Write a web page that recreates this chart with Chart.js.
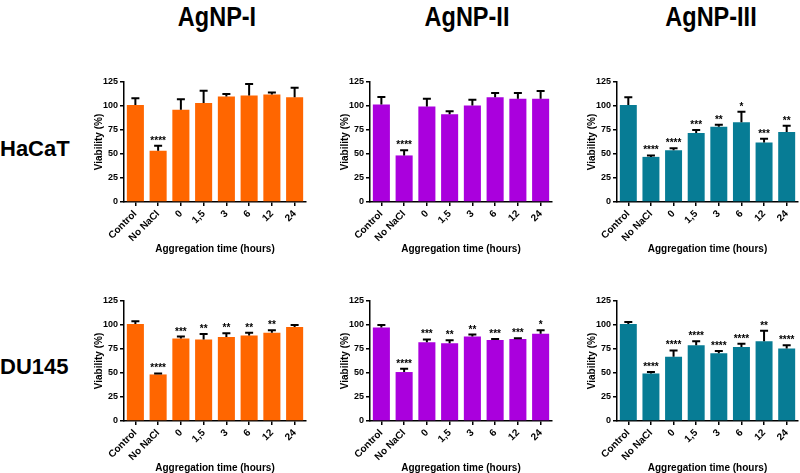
<!DOCTYPE html>
<html>
<head>
<meta charset="utf-8">
<script src="https://cdn.jsdelivr.net/npm/chart.js@4.4.0/dist/chart.umd.min.js"></script>
<style>
  body { margin: 0; width: 800px; height: 473px; background: #fff; position: relative; overflow: hidden;
         font-family: "Liberation Sans", Arial, sans-serif; }
  canvas { position: absolute; }
  .colTitle { position: absolute; top: 4px; font-size: 27px; line-height: 27px; font-weight: bold;
              white-space: nowrap; transform: translateX(-50%) scaleX(0.87); }
  .rowLabel { position: absolute; left: 0; font-size: 22px; line-height: 22px; font-weight: bold; white-space: nowrap; }
</style>
</head>
<body>
<div class="colTitle" style="left:217px">AgNP-I</div>
<div class="colTitle" style="left:467px">AgNP-II</div>
<div class="colTitle" style="left:711px">AgNP-III</div>
<div class="rowLabel" style="top:138px">HaCaT</div>
<div class="rowLabel" style="top:356px">DU145</div>

<canvas id="c1" width="218" height="184"></canvas>
<canvas id="c2" width="218" height="184"></canvas>
<canvas id="c3" width="218" height="184"></canvas>
<canvas id="c4" width="218" height="184"></canvas>
<canvas id="c5" width="218" height="184"></canvas>
<canvas id="c6" width="218" height="184"></canvas>

<script>
// categories and axis
var categories = ['Control', 'No NaCl', '0', '1,5', '3', '6', '12', '24'];
var yTicks = [0, 25, 50, 75, 100, 125];
var yTitle = 'Viability (%)';
var xTitle = 'Aggregation time (hours)';

// HaCaT
var hacatAg1 = [101, 53.5, 96, 103, 110, 111, 112, 109];
var hacatAg1Err = [7, 5, 11, 13, 2.5, 12, 2, 10];
var hacatAg1Sig = ['', '****', '', '', '', '', '', ''];

var hacatAg2 = [101.5, 48.5, 99.5, 91.5, 100.5, 109, 107.5, 107.5];
var hacatAg2Err = [8, 5.5, 8, 3, 6, 4.5, 6, 8];
var hacatAg2Sig = ['', '****', '', '', '', '', '', ''];

var hacatAg3 = [101, 47, 54, 72, 78.5, 83, 62, 73];
var hacatAg3Err = [8, 1.5, 2, 3, 2, 11, 4, 6.5];
var hacatAg3Sig = ['', '****', '****', '***', '**', '*', '***', '**'];

// DU145
var du145Ag1 = [101, 48.5, 86, 85, 87.5, 89, 92, 98];
var du145Ag1Err = [3, 1, 2, 5.5, 4, 3, 2.5, 2];
var du145Ag1Sig = ['', '****', '***', '**', '**', '**', '**', ''];

var du145Ag2 = [97.5, 51, 82, 81, 88, 84.5, 85.5, 91];
var du145Ag2Err = [2.5, 3.5, 3, 3, 2, 1, 0.8, 3.5];
var du145Ag2Sig = ['', '****', '***', '**', '**', '***', '***', '*'];

var du145Ag3 = [101, 49.5, 67, 79, 70.5, 77, 83, 75.5];
var du145Ag3Err = [2, 1.5, 6.5, 4, 2.5, 3.5, 11, 3.5];
var du145Ag3Sig = ['', '****', '****', '****', '****', '****', '**', '****'];

var orange = '#FF6600';
var purple = '#AA00DD';
var teal = '#077C95';

// where each panel sits: axis x, top of the 125 tick, plot width
var panels = [
    {id: 'c1', axisX: 124, top: 82,  w: 182, data: hacatAg1, err: hacatAg1Err, sig: hacatAg1Sig, color: orange},
    {id: 'c2', axisX: 370, top: 82,  w: 182, data: hacatAg2, err: hacatAg2Err, sig: hacatAg2Sig, color: purple},
    {id: 'c3', axisX: 617, top: 82,  w: 181, data: hacatAg3, err: hacatAg3Err, sig: hacatAg3Sig, color: teal},
    {id: 'c4', axisX: 124, top: 301, w: 182, data: du145Ag1, err: du145Ag1Err, sig: du145Ag1Sig, color: orange},
    {id: 'c5', axisX: 370, top: 301, w: 182, data: du145Ag2, err: du145Ag2Err, sig: du145Ag2Sig, color: purple},
    {id: 'c6', axisX: 617, top: 301, w: 181, data: du145Ag3, err: du145Ag3Err, sig: du145Ag3Sig, color: teal}
];

var FONT = '"Liberation Sans", Arial, sans-serif';
var Y_AXIS_W = 34;
var X_AXIS_H = 53;
var PAD_TOP = 8;
var PLOT_H = 120;

// upward error bars + significance stars
var errorBars = {
    id: 'errorBars',
    afterDatasetsDraw: function(chart) {
        var ctx = chart.ctx;
        var ds = chart.data.datasets[0];
        var meta = chart.getDatasetMeta(0);
        var yScale = chart.scales.y;
        ctx.save();
        ctx.strokeStyle = '#000';
        ctx.fillStyle = '#000';
        ctx.lineWidth = 2;
        ctx.font = 'bold 10px ' + FONT;
        ctx.textAlign = 'center';
        ctx.textBaseline = 'alphabetic';
        meta.data.forEach(function(bar, i) {
            var yVal = yScale.getPixelForValue(ds.data[i]);
            var yTop = yScale.getPixelForValue(ds.data[i] + ds.errs[i]);
            ctx.beginPath();
            ctx.moveTo(bar.x, yVal);
            ctx.lineTo(bar.x, yTop);
            ctx.moveTo(bar.x - 4, yTop);
            ctx.lineTo(bar.x + 4, yTop);
            ctx.stroke();
            if (ds.sig[i]) {
                ctx.fillText(ds.sig[i], bar.x, yTop - 2);
            }
        });
        ctx.restore();
    }
};

panels.forEach(function(p) {
    var canvas = document.getElementById(p.id);
    canvas.width = Y_AXIS_W + p.w + 2;
    canvas.height = PAD_TOP + PLOT_H + X_AXIS_H + 2;
    canvas.style.left = (p.axisX - Y_AXIS_W) + 'px';
    canvas.style.top = (p.top - PAD_TOP) + 'px';

    new Chart(canvas, {
        type: 'bar',
        data: {
            labels: categories,
            datasets: [{
                data: p.data,
                errs: p.err,
                sig: p.sig,
                backgroundColor: p.color,
                borderWidth: 0,
                barPercentage: 0.75,
                categoryPercentage: 1
            }]
        },
        options: {
            responsive: false,
            animation: false,
            devicePixelRatio: 1,
            layout: { padding: { top: PAD_TOP, left: 0, right: 2, bottom: 2 } },
            plugins: { legend: { display: false }, tooltip: { enabled: false } },
            scales: {
                x: {
                    afterFit: function(s) { s.height = X_AXIS_H; },
                    grid: { drawOnChartArea: false, drawTicks: true, tickLength: 4, color: '#000', lineWidth: 1.5, offset: false },
                    border: { display: true, color: '#000', width: 1.5 },
                    ticks: { autoSkip: false, minRotation: 45, maxRotation: 45, padding: 2, color: '#000',
                             font: { family: FONT, size: 10, weight: 'bold' } },
                    title: { display: true, text: xTitle, color: '#000', padding: { top: 0, bottom: 0 },
                             font: { family: FONT, size: 10, weight: 'bold' } }
                },
                y: {
                    min: yTicks[0],
                    max: yTicks[yTicks.length - 1],
                    afterFit: function(s) { s.width = Y_AXIS_W; },
                    afterBuildTicks: function(s) { s.ticks = yTicks.map(function(v) { return {value: v}; }); },
                    grid: { drawOnChartArea: false, drawTicks: true, tickLength: 4, color: '#000', lineWidth: 1.5 },
                    border: { display: true, color: '#000', width: 1.5 },
                    ticks: { padding: 2, color: '#000', font: { family: FONT, size: 9, weight: 'bold' } },
                    title: { display: true, text: yTitle, color: '#000', padding: { top: 3, bottom: 0 },
                             font: { family: FONT, size: 10, weight: 'bold' } }
                }
            }
        },
        plugins: [errorBars]
    });
});
</script>
</body>
</html>
